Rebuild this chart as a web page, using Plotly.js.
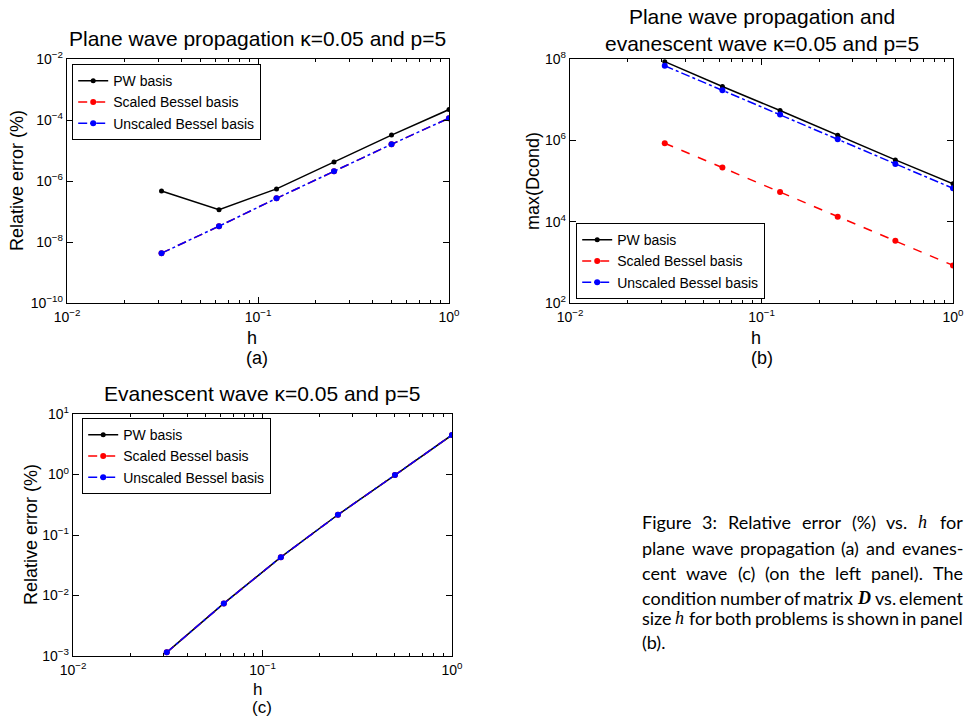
<!DOCTYPE html>
<html>
<head>
<meta charset="utf-8">
<script src="https://cdn.plot.ly/plotly-3.0.1.min.js"></script>
<style>html,body{margin:0;padding:0;background:#fff;}#chart{width:965px;height:717px;}</style>
</head>
<body>
<div id="chart"></div>
<script>
// ---- data ----
const h = [0.03125, 0.0625, 0.125, 0.25, 0.5, 1];
const seriesNames = ["PW basis", "Scaled Bessel basis", "Unscaled Bessel basis"];

// (a) plane wave propagation, relative error (%)
const errPlanePW       = [4.7e-7, 1.15e-7, 5.5e-7, 4.2e-6, 3.2e-5, 2.2e-4];
const errPlaneScaled   = [4.3e-9, 3.3e-8, 2.7e-7, 2.1e-6, 1.6e-5, 1.15e-4];
const errPlaneUnscaled = [4.3e-9, 3.3e-8, 2.7e-7, 2.1e-6, 1.6e-5, 1.15e-4];

// (b) max condition number
const condPW       = [8.6e7, 2.1e7, 5.4e6, 1.33e6, 3.3e5, 8.5e4];
const condScaled   = [8.5e5, 2.14e5, 5.4e4, 1.33e4, 3.4e3, 840];
const condUnscaled = [6.8e7, 1.7e7, 4.3e6, 1.07e6, 2.6e5, 6.6e4];

// (c) evanescent wave, relative error (%)
const errEvanPW       = [1.15e-3, 7.4e-3, 0.043, 0.216, 0.98, 4.5];
const errEvanScaled   = [1.15e-3, 7.4e-3, 0.043, 0.216, 0.98, 4.5];
const errEvanUnscaled = [1.15e-3, 7.4e-3, 0.043, 0.216, 0.98, 4.5];

// tick labels
const xTickVals = [0.01, 0.1, 1];
const xTickText = ["10<sup>−2</sup>", "10<sup>−1</sup>", "10<sup>0</sup>"];
const xMinorVals = [0.02, 0.03, 0.04, 0.05, 0.06, 0.07, 0.08, 0.09, 0.2, 0.3, 0.4, 0.5, 0.6, 0.7, 0.8, 0.9];
const yaTickVals = [1e-10, 1e-8, 1e-6, 1e-4, 1e-2];
const yaTickText = ["10<sup>−10</sup>", "10<sup>−8</sup>", "10<sup>−6</sup>", "10<sup>−4</sup>", "10<sup>−2</sup>"];
const ybTickVals = [1e2, 1e4, 1e6, 1e8];
const ybTickText = ["10<sup>2</sup>", "10<sup>4</sup>", "10<sup>6</sup>", "10<sup>8</sup>"];
const ycTickVals = [1e-3, 1e-2, 1e-1, 1, 10];
const ycTickText = ["10<sup>−3</sup>", "10<sup>−2</sup>", "10<sup>−1</sup>", "10<sup>0</sup>", "10<sup>1</sup>"];

// caption lines (words); second entry marks a special font
const captionLines = [
  [["Figure"], ["3:"], ["Relative"], ["error"], ["(%)"], ["vs."], ["h", "i"], ["for"]],
  [["plane"], ["wave"], ["propagation"], ["(a)"], ["and"], ["evanes-"]],
  [["cent"], ["wave"], ["(c)"], ["(on"], ["the"], ["left"], ["panel)."], ["The"]],
  [["condition"], ["number"], ["of"], ["matrix"], ["D", "bi"], ["vs."], ["element"]],
  [["size"], ["h", "i"], ["for"], ["both"], ["problems"], ["is"], ["shown"], ["in"], ["panel"]],
  [["(b)."]]
];

// ---- styling ----
const W = 965, H = 717;
const PX = v => v / W, PY = v => 1 - v / H;
const styles = [
  {line: {color: "#000000", width: 1.5, dash: "solid"}, marker: {color: "#000000", size: 5}},
  {line: {color: "#ff0000", width: 1.5, dash: "dash"}, marker: {color: "#ff0000", size: 6}},
  {line: {color: "#0000ff", width: 1.5, dash: "dashdot"}, marker: {color: "#0000ff", size: 6}}
];
function mk(y, k, xa, ya, leg) {
  return {x: h, y: y, name: seriesNames[k], type: "scatter", mode: "lines+markers",
    xaxis: xa, yaxis: ya, legend: leg, line: styles[k].line, marker: styles[k].marker};
}
const traces = [
  mk(errPlanePW, 0, "x", "y", "legend"),
  mk(errPlaneScaled, 1, "x", "y", "legend"),
  mk(errPlaneUnscaled, 2, "x", "y", "legend"),
  mk(condPW, 0, "x2", "y2", "legend2"),
  mk(condScaled, 1, "x2", "y2", "legend2"),
  mk(condUnscaled, 2, "x2", "y2", "legend2"),
  mk(errEvanPW, 0, "x3", "y3", "legend3"),
  mk(errEvanScaled, 1, "x3", "y3", "legend3"),
  mk(errEvanUnscaled, 2, "x3", "y3", "legend3")
];

const tickFont = {family: "Liberation Sans, Arial, sans-serif", size: 14, color: "#000"};
function xax(domain, anchor) {
  return {type: "log", range: [-2, 0], domain: domain, anchor: anchor,
    tickmode: "array", tickvals: xTickVals, ticktext: xTickText, ticks: "inside", ticklen: 6, tickcolor: "#000",
    showline: true, linecolor: "#000", linewidth: 1.2, mirror: "ticks", showgrid: false, zeroline: false,
    tickfont: tickFont, automargin: false, ticklabelstandoff: 1,
    minor: {tickmode: "array", tickvals: xMinorVals, ticks: "inside", ticklen: 3, tickcolor: "#000", showgrid: false}};
}
function yax(domain, anchor, range, tv, tt) {
  return {type: "log", range: range, domain: domain, anchor: anchor,
    tickmode: "array", tickvals: tv, ticktext: tt, ticks: "inside", ticklen: 6, tickcolor: "#000",
    showline: true, linecolor: "#000", linewidth: 1.2, mirror: "ticks", showgrid: false, zeroline: false,
    tickfont: tickFont, automargin: false};
}
const legFont = {family: "Liberation Sans, Arial, sans-serif", size: 14, color: "#000"};
function leg(x, y, ya) {
  return {x: x, y: y, xanchor: "left", yanchor: ya || "top", bgcolor: "#fff", bordercolor: "#000",
    borderwidth: 1.2, font: legFont, itemwidth: 30, tracegroupgap: 0};
}
const tFont = {family: "Liberation Sans, Arial, sans-serif", size: 21, color: "#000"};
const lFont = {family: "Liberation Sans, Arial, sans-serif", size: 18, color: "#000"};
const lFontC = {family: "Liberation Sans, Arial, sans-serif", size: 17, color: "#000"};
function ann(text, x, y, font, extra) {
  return Object.assign({text: text, x: PX(x), y: PY(y), xref: "paper", yref: "paper",
    showarrow: false, font: font, xanchor: "center", yanchor: "middle"}, extra || {});
}

const annotations = [
  ann("Plane wave propagation κ=0.05 and p=5", 257, 38, tFont),
  ann("Plane wave propagation and<br>evanescent wave κ=0.05 and p=5", 762, 30, tFont),
  ann("Evanescent wave κ=0.05 and p=5", 262, 393, tFont),
  ann("h", 252, 338, lFont), ann("(a)", 257, 358, lFont),
  ann("h", 756, 338, lFont), ann("(b)", 762, 358, lFont),
  ann("h", 257, 689, lFontC), ann("(c)", 262, 707, lFontC),
  ann("Relative error (%)", 17, 181, lFont, {textangle: -90}),
  ann("max(Dcond)", 533, 181, lFont, {textangle: -90}),
  ann("Relative error (%)", 31, 535, lFont, {textangle: -90})
];

// caption: justified word by word using measured widths
const capSize = 18, capLeft = 640, capRight = 961;
const capY = [522, 548, 573, 598, 618, 642];
const sansFam = "Lato", serifFam = "Liberation Serif";
const cvs = document.createElement("canvas").getContext("2d");
function wordFont(kind) {
  if (kind === "i") return {css: "italic " + capSize + "px '" + serifFam + "'", html: t => "<i>" + t + "</i>", fam: serifFam};
  if (kind === "bi") return {css: "italic bold " + capSize + "px '" + serifFam + "'", html: t => "<b><i>" + t + "</i></b>", fam: serifFam};
  return {css: capSize + "px '" + sansFam + "'", html: t => t, fam: sansFam};
}
captionLines.forEach((line, li) => {
  const ws = line.map(w => {
    const f = wordFont(w[1]);
    cvs.font = f.css;
    return {w: cvs.measureText(w[0]).width + (w[1] ? 2 : 0), f: f, t: w[0]};
  });
  const total = ws.reduce((s, o) => s + o.w, 0);
  cvs.font = capSize + "px '" + sansFam + "'";
  const natGap = cvs.measureText(" ").width;
  const justify = li < captionLines.length - 1 && ws.length > 1;
  const gap = justify ? (capRight - capLeft - total) / (ws.length - 1) : natGap;
  let x = capLeft;
  ws.forEach(o => {
    annotations.push(ann(o.f.html(o.t), x, capY[li], {family: o.f.fam, size: capSize, color: "#000"},
      {xanchor: "left"}));
    x += o.w + gap;
  });
});

const layout = {
  width: W, height: H, margin: {l: 0, r: 0, t: 0, b: 0},
  paper_bgcolor: "#fff", plot_bgcolor: "#fff",
  font: {family: "Liberation Sans, Arial, sans-serif", color: "#000"},
  xaxis: xax([PX(67), PX(449)], "y"),
  yaxis: yax([PY(303), PY(59)], "x", [-10, -2], yaTickVals, yaTickText),
  xaxis2: xax([PX(570), PX(953)], "y2"),
  yaxis2: yax([PY(303), PY(59)], "x2", [2, 8], ybTickVals, ybTickText),
  xaxis3: xax([PX(73), PX(452)], "y3"),
  yaxis3: yax([PY(656), PY(414)], "x3", [-3, 1], ycTickVals, ycTickText),
  legend: leg(PX(72), PY(64)),
  legend2: leg(PX(576), PY(299), "bottom"),
  legend3: leg(PX(82), PY(418)),
  showlegend: true,
  annotations: annotations
};
Plotly.newPlot("chart", traces, layout, {staticPlot: true});
</script>
</body>
</html>
